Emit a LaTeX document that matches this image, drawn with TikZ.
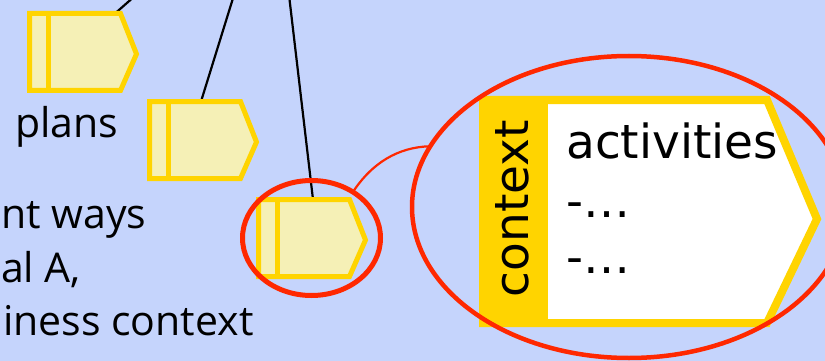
\documentclass[tikz,border=0pt]{standalone}
\usepackage{fontspec}
\setmainfont{DejaVu Sans}
\newfontfamily\leftfont{Open Sans}
\usetikzlibrary{shapes.geometric}
\definecolor{bgblue}{RGB}{197,212,252}
\definecolor{gold}{RGB}{255,212,0}
\definecolor{paleyellow}{RGB}{245,240,182}
\definecolor{ovalred}{RGB}{255,40,0}
\tikzset{
  tabshape/.style={draw=gold, fill=paleyellow, line width=5pt, line join=miter},
  tab/.pic={
    \draw[tabshape] (0,0) -- (91,0) -- (107,40.5) -- (91,77) -- (0,77) -- cycle;
    \draw[gold, line width=5pt] (19,0) -- (19,77);
  },
  link/.style={draw=black, line width=2.2pt},
  oval/.style={draw=ovalred, ellipse, inner sep=0pt, outer sep=0pt},
  lefttext/.style={font=\leftfont\fontsize{41}{50}\selectfont, inner sep=0pt, anchor=base west},
  bigtext/.style={font=\fontsize{47}{56}\selectfont, inner sep=0pt}
}
\begin{document}
\begin{tikzpicture}[x=1pt,y=-1pt]
\useasboundingbox (0,0) rectangle (825,361);
\clip (0,0) rectangle (825,361);
\fill[bgblue] (0,0) rectangle (825,361);

% connectors to the top
\coordinate (a1) at (115,13.5);
\coordinate (t1) at (136,-5);
\coordinate (a2) at (201,101.5);
\coordinate (t2) at (234,-5);
\coordinate (a3) at (313,199.5);
\coordinate (t3) at (289,-5);
\draw[link] (a1) -- (t1);
\draw[link] (a2) -- (t2);
\draw[link] (a3) -- (t3);

% small tabs
\pic (s1) at (29.5,13.5) {tab};
\pic (s2) at (149.5,101.5) {tab};
\pic (s3) at (258.5,199.5) {tab};

% left texts
\node[lefttext] (l1) at (15,137) {plans};
\node[lefttext] (l2) at (1,228) {nt ways};
\node[lefttext] (l3) at (1,282) {al A,};
\node[lefttext] (l4) at (3,335) {iness context};

% big tab
\draw[gold, fill=white, line width=8pt, line join=miter]
  (483,100) -- (767,100) -- (817,219) -- (767,323) -- (483,323) -- cycle;
\fill[gold] (479,96) rectangle (548,327);
\node[bigtext, rotate=90, anchor=base] (ctx) at (528,208.5) {context};
\node[bigtext, anchor=base west] (act) at (566,158) {activities};
\node[bigtext, anchor=base west] (d1) at (566,217) {-…};
\node[bigtext, anchor=base west] (d2) at (566,273) {-…};

% ovals
\node[oval, line width=5pt, minimum width=138pt, minimum height=115pt] (e1) at (311.5,238) {};
\node[oval, line width=4.5pt, minimum width=434pt, minimum height=302pt] (e2) at (629,207) {};
\draw[ovalred, line width=2.2pt] (e1.48) .. controls (372,163) and (398,147) .. (e2.163);
\end{tikzpicture}
\end{document}
